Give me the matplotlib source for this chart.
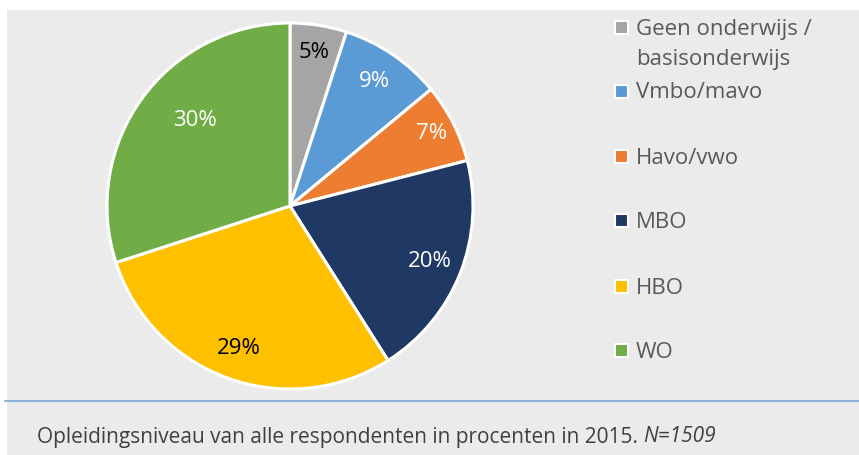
import matplotlib.pyplot as plt
import numpy as np
from matplotlib.patches import Rectangle
from matplotlib.lines import Line2D

plt.rcParams['font.family'] = ['Open Sans', 'DejaVu Sans']

# opleidingsniveau, percentages
categories = ['Geen onderwijs /\nbasisonderwijs', 'Vmbo/mavo', 'Havo/vwo', 'MBO', 'HBO', 'WO']
values = [5, 9, 7, 20, 29, 30]
colors = ['#A5A5A5', '#5B9BD5', '#ED7D31', '#203864', '#FFC000', '#70AD47']
label_colors = ['black', 'white', 'white', 'white', 'black', 'white']
label_dist = [0.85, 0.82, 0.87, 0.82, 0.83, 0.70]
caption = 'Opleidingsniveau van alle respondenten in procenten in 2015. '

W, H = 859, 455
fig = plt.figure(figsize=(W / 100, H / 100), dpi=100, facecolor='white')

# grijze achtergrond en blauwe scheidingslijn
fig.patches.append(Rectangle((7 / W, 0), 1, 1 - 10 / H, transform=fig.transFigure,
                             facecolor='#EBEBEB', edgecolor='none', zorder=-2))
fig.lines.append(Line2D([5 / W, 1], [1 - 401 / H] * 2, transform=fig.transFigure,
                        color='#7AA6D6', lw=1.2, zorder=-1))

# taart: middelpunt (290, 206), straal 183 px
cx, cy, r = 290, 206, 183
ax = fig.add_axes([(cx - r) / W, 1 - (cy + r) / H, 2 * r / W, 2 * r / H])
ax.set_facecolor('none')
wedges, _ = ax.pie(values, colors=colors, startangle=90, counterclock=False,
                   wedgeprops=dict(edgecolor='white', linewidth=2.2))
ax.set_xlim(-1, 1)
ax.set_ylim(-1, 1)
ax.set_aspect('equal')
ax.axis('off')

for w, v, c, d in zip(wedges, values, label_colors, label_dist):
    ang = np.deg2rad((w.theta1 + w.theta2) / 2)
    if v == 30:
        ang -= np.deg2rad(6)
    ax.text(d * np.cos(ang), d * np.sin(ang), f'{v}%', color=c, fontsize=16,
            ha='center', va='center')

# legenda
ys = [27, 91, 156, 220, 286, 350]
for name, col, y in zip(categories, colors, ys):
    fig.patches.append(Rectangle((615 / W, 1 - (y + 7) / H), 13 / W, 13 / H,
                                 transform=fig.transFigure, facecolor=col,
                                 edgecolor='white', linewidth=1.5, zorder=3))
    n = name.count('\n')
    fig.text(636 / W, 1 - (y + 2 + 15.5 * n) / H, name, fontsize=16, color='#595959',
             va='center', ha='left', linespacing=1.5)

# onderschrift
t = fig.text(37 / W, 1 - 437 / H, caption, fontsize=15, color='#404040',
             va='center', ha='left')
fig.canvas.draw()
bb = t.get_window_extent()
fig.text(bb.x1 / W, 1 - 437 / H, 'N=1509', fontsize=15, color='#404040',
         style='italic', va='center', ha='left')

fig.savefig('out.png', dpi=100, facecolor=fig.get_facecolor())
